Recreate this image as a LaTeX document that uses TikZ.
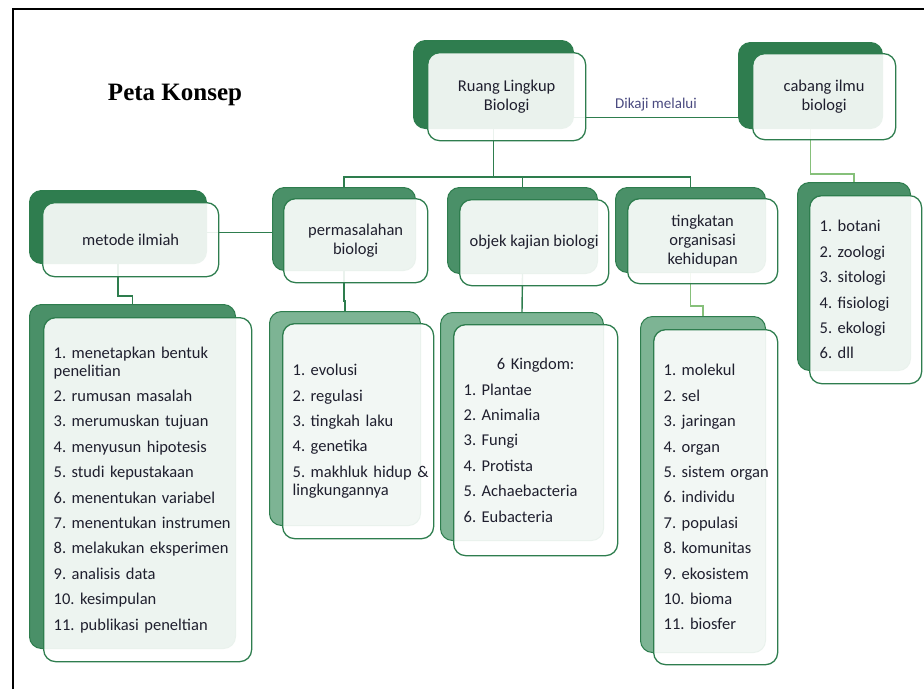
\documentclass[tikz,border=0pt]{standalone}
\usepackage{fontspec}
\setmainfont{Carlito}
\newfontfamily\titlefont{Liberation Serif}
\definecolor{boxline}{HTML}{2E7D4E}
\definecolor{darkbk}{HTML}{2F7D4F}
\definecolor{midbk}{HTML}{4A9068}
\definecolor{lightbk}{HTML}{7DB494}
\definecolor{paleline}{HTML}{86C07A}
\definecolor{txt}{HTML}{1F1F2E}
\definecolor{labeltxt}{HTML}{4A4A80}
\frenchspacing
\hyphenpenalty=10000
\tikzset{
  backbox/.style={draw=boxline, fill=#1, line width=1pt, rounded corners=12pt,
    inner sep=0pt, anchor=north west},
  frontbox/.style={draw=boxline, fill=white, fill opacity=0.9, text opacity=1,
    line width=1.3pt, rounded corners=12pt, inner sep=0pt, anchor=north west,
    align=center, text=txt, font=\fontsize{16.5}{19}\selectfont},
  listbox/.style={frontbox, align=left, inner xsep=10pt,
    font=\fontsize{16.5}{18}\selectfont},
  link/.style={draw=boxline, line width=1.4pt},
  palelink/.style={draw=paleline, line width=1.2pt},
}
\begin{document}
\begin{tikzpicture}[x=1pt,y=-1pt]
\useasboundingbox (0,0) rectangle (924,689);
% frame
\draw[line width=2pt] (13,689) -- (13,8.5) -- (924,8.5);

\node[anchor=base, font=\titlefont\bfseries\fontsize{25}{30}\selectfont] (title) at (175,100) {Peta Konsep};

% back boxes
\node[backbox=darkbk, minimum width=160pt, minimum height=88pt] (ruangbk) at (413,40) {};
\node[backbox=darkbk, minimum width=144pt, minimum height=86pt] (cabangbk) at (738,42) {};
\node[backbox=darkbk, minimum width=177pt, minimum height=73pt] (metodebk) at (29,190) {};
\node[backbox=midbk, minimum width=143pt, minimum height=83pt] (masalahbk) at (272,187) {};
\node[backbox=midbk, minimum width=150pt, minimum height=86pt] (objekbk) at (447,187) {};
\node[backbox=midbk, minimum width=150pt, minimum height=85pt] (tingkatbk) at (615,187) {};
\node[backbox=midbk, minimum width=113pt, minimum height=188pt] (cabanglistbk) at (797,182) {};
\node[backbox=midbk, minimum width=206pt, minimum height=344pt] (metodelistbk) at (29,304) {};
\node[backbox=lightbk, minimum width=151pt, minimum height=214pt] (masalahlistbk) at (269,311) {};
\node[backbox=lightbk, minimum width=163pt, minimum height=228pt] (objeklistbk) at (440,312) {};
\node[backbox=lightbk, minimum width=125pt, minimum height=336pt] (tingkatlistbk) at (640,316) {};

% connectors
\coordinate (dk) at ([yshift=-33pt]ruangbk.east);
\draw[link] (dk) -- (dk -| cabangbk.west)
  node[midway, above=4pt, inner sep=2pt, text=labeltxt, font=\fontsize{15}{17}\selectfont] (dikaji) {Dikaji melalui};
\coordinate (mk) at ([yshift=-5.5pt]metodebk.east);
\draw[link] (mk) -- (mk -| masalahbk.west);
\draw[link] (ruangbk.south) -- ++(0,48) coordinate (bus);
\draw[link] (masalahbk.north) |- (bus);
\draw[link] (objekbk.north) |- (bus);
\draw[link] (tingkatbk.north) |- (bus);
\draw[palelink] (cabangbk.south) -- ++(0,45) -| (cabanglistbk.north);
\draw[link] (metodebk.south) -- ++(0,32) -| (metodelistbk.north);
\draw[link] (masalahbk.south) -- ++(0,30) -| (masalahlistbk.north);
\draw[link] (objekbk.south) -- (objeklistbk.north);
\draw[palelink] (tingkatbk.south) -- ++(0,33) -| (tingkatlistbk.north);

% front boxes
\node[frontbox, minimum width=158pt, minimum height=88pt] (ruang) at (427,52) {Ruang Lingkup\\Biologi};
\node[frontbox, minimum width=143pt, minimum height=86pt] (cabang) at (752,53) {cabang ilmu\\biologi};
\node[frontbox, minimum width=176pt, minimum height=74pt] (metode) at (42,202) {metode ilmiah};
\node[frontbox, minimum width=144pt, minimum height=84pt] (masalah) at (283,198) {permasalahan\\biologi};
\node[frontbox, minimum width=149pt, minimum height=86pt] (objek) at (459,199) {objek kajian biologi};
\node[frontbox, minimum width=150pt, minimum height=85pt] (tingkat) at (627,198) {tingkatan\\organisasi\\kehidupan};

\node[listbox, text width=92pt, minimum height=188pt] (cabanglist) at (809,195)
  {1. botani\\[7.4pt]2. zoologi\\[7.4pt]3. sitologi\\[7.4pt]4. fisiologi\\[7.4pt]5. ekologi\\[7.4pt]6. dll};
\node[listbox, text width=188pt, minimum height=344pt] (metodelist) at (43,317)
  {1. menetapkan bentuk\\penelitian\\[7.4pt]2. rumusan masalah\\[7.4pt]3. merumuskan tujuan\\[7.4pt]4. menyusun hipotesis\\[7.4pt]5. studi kepustakaan\\[7.4pt]6. menentukan variabel\\[7.4pt]7. menentukan instrumen\\[7.4pt]8. melakukan eksperimen\\[7.4pt]9. analisis data\\[7.4pt]10. kesimpulan\\[7.4pt]11. publikasi peneltian};
\node[listbox, text width=131pt, minimum height=215pt] (masalahlist) at (282,323)
  {1. evolusi\\[7.4pt]2. regulasi\\[7.4pt]3. tingkah laku\\[7.4pt]4. genetika\\[7.4pt]\mbox{5. makhluk hidup \&}\\lingkungannya};
\node[listbox, text width=144pt, minimum height=231pt] (objeklist) at (453,324)
  {\makebox[144pt]{6 Kingdom:}\\[7.4pt]1. Plantae\\[7.4pt]2. Animalia\\[7.4pt]3. Fungi\\[7.4pt]4. Protista\\[7.4pt]5. Achaebacteria\\[7.4pt]6. Eubacteria};
\node[listbox, text width=104pt, minimum height=335pt] (tingkatlist) at (653,329)
  {1. molekul\\[7.4pt]2. sel\\[7.4pt]3. jaringan\\[7.4pt]4. organ\\[7.4pt]\mbox{5. sistem organ}\\[7.4pt]6. individu\\[7.4pt]7. populasi\\[7.4pt]8. komunitas\\[7.4pt]9. ekosistem\\[7.4pt]10. bioma\\[7.4pt]11. biosfer};
\end{tikzpicture}
\end{document}
